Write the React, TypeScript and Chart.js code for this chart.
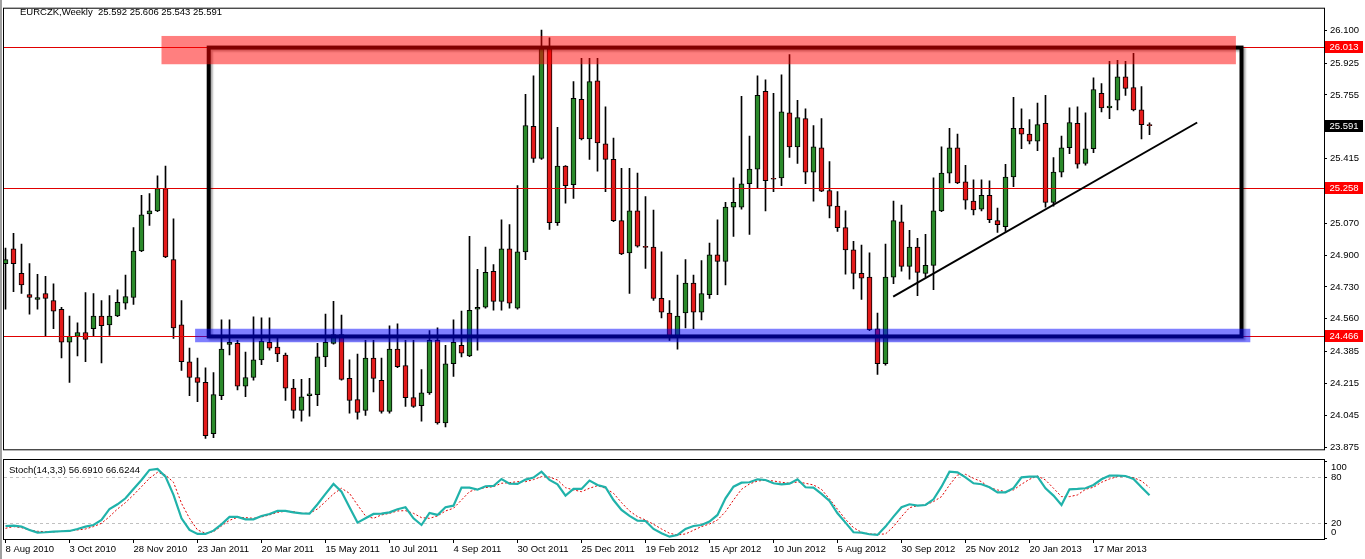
import React, { useEffect, useRef } from 'react';
import { Chart, registerables } from 'chart.js';
Chart.register(...registerables);

// ---------- DATA (weekly EURCZK candles, bar 0 = 8 Aug 2010) ----------
const opens = [
  24.855, 24.933, 24.803, 24.689, 24.663, 24.695, 24.658, 24.611, 24.435, 24.466,
  24.487, 24.507, 24.575, 24.528, 24.575, 24.643, 24.674, 24.922, 25.120, 25.136,
  25.255, 24.876, 24.528, 24.331, 24.247, 24.221, 23.947, 24.150, 24.424, 24.429,
  24.201, 24.247, 24.341, 24.435, 24.409, 24.367, 24.190, 24.071, 24.150, 24.155,
  24.357, 24.429, 24.476, 24.242, 24.129, 24.071, 24.351, 24.232, 24.066, 24.398,
  24.310, 24.139, 24.097, 24.165, 24.445, 24.004, 24.320, 24.419, 24.362, 24.611,
  24.622, 24.814, 24.653, 24.933, 24.617, 24.917, 25.587, 25.416, 26.003, 25.073,
  25.375, 25.276, 25.732, 25.520, 25.831, 25.494, 25.411, 25.084, 24.912, 25.136,
  24.943, 24.943, 24.669, 24.591, 24.461, 24.591, 24.751, 24.596, 24.689, 24.902,
  24.866, 25.156, 25.156, 25.281, 25.359, 25.774, 25.307, 25.312, 25.660, 25.478,
  25.629, 25.343, 25.473, 25.245, 25.162, 25.047, 24.928, 24.803, 24.783, 24.507,
  24.320, 24.783, 25.078, 24.840, 24.943, 24.803, 24.845, 25.136, 25.338, 25.473,
  25.291, 25.188, 25.146, 25.219, 25.084, 25.052, 25.317, 25.577, 25.546, 25.509,
  25.603, 25.182, 25.343, 25.473, 25.603, 25.390, 25.468, 25.764, 25.686, 25.727,
  25.852, 25.795, 25.675, 25.592,
];
const highs = [
  24.938, 25.016, 24.959, 24.855, 24.798, 24.787, 24.747, 24.622, 24.575, 24.539,
  24.700, 24.695, 24.658, 24.684, 24.715, 24.793, 25.047, 25.219, 25.229, 25.323,
  25.375, 25.094, 24.658, 24.404, 24.351, 24.299, 24.273, 24.554, 24.554, 24.445,
  24.383, 24.570, 24.565, 24.565, 24.461, 24.377, 24.237, 24.237, 24.242, 24.429,
  24.585, 24.653, 24.580, 24.341, 24.372, 24.445, 24.445, 24.351, 24.523, 24.533,
  24.445, 24.445, 24.289, 24.497, 24.512, 24.419, 24.554, 24.601, 25.000, 24.824,
  24.943, 24.850, 25.089, 25.063, 25.271, 25.758, 25.857, 26.101, 26.060, 25.582,
  25.378, 25.826, 25.951, 25.951, 25.951, 25.691, 25.525, 25.364, 25.364, 25.338,
  25.213, 25.141, 24.917, 24.658, 24.793, 24.876, 24.793, 24.871, 24.964, 25.089,
  25.182, 25.312, 25.748, 25.535, 25.857, 25.836, 25.764, 25.862, 25.971, 25.727,
  25.681, 25.592, 25.629, 25.400, 25.239, 25.136, 24.974, 24.954, 24.912, 24.591,
  24.959, 25.188, 25.167, 25.032, 24.990, 25.011, 25.312, 25.478, 25.577, 25.546,
  25.380, 25.302, 25.302, 25.297, 25.151, 25.385, 25.743, 25.681, 25.623, 25.712,
  25.753, 25.421, 25.535, 25.686, 25.691, 25.660, 25.847, 25.816, 25.935, 25.940,
  25.935, 25.977, 25.800, 25.606,
];
const lows = [
  24.611, 24.705, 24.695, 24.585, 24.611, 24.466, 24.507, 24.351, 24.221, 24.362,
  24.331, 24.466, 24.325, 24.471, 24.572, 24.611, 24.637, 24.918, 25.058, 25.132,
  24.886, 24.455, 24.284, 24.150, 24.118, 23.921, 23.926, 24.129, 24.367, 24.180,
  24.144, 24.232, 24.315, 24.393, 24.331, 24.124, 24.030, 24.014, 24.040, 24.097,
  24.305, 24.425, 24.232, 24.056, 24.025, 24.045, 24.170, 24.056, 24.056, 24.299,
  24.092, 24.087, 24.014, 24.157, 23.998, 23.983, 24.253, 24.357, 24.358, 24.393,
  24.617, 24.606, 24.606, 24.617, 24.612, 24.876, 25.395, 25.411, 25.037, 25.058,
  25.177, 25.203, 25.515, 25.411, 25.348, 25.239, 25.078, 24.903, 24.695, 24.943,
  24.829, 24.658, 24.565, 24.445, 24.398, 24.512, 24.507, 24.554, 24.669, 24.689,
  24.741, 25.000, 25.146, 25.011, 25.255, 25.136, 25.239, 25.271, 25.421, 25.390,
  25.281, 25.188, 25.239, 25.099, 25.026, 24.798, 24.720, 24.663, 24.497, 24.263,
  24.312, 24.747, 24.814, 24.772, 24.684, 24.783, 24.715, 25.132, 25.286, 25.281,
  25.146, 25.115, 25.136, 25.073, 25.021, 25.026, 25.265, 25.468, 25.494, 25.458,
  25.156, 25.162, 25.317, 25.442, 25.364, 25.380, 25.447, 25.665, 25.629, 25.675,
  25.753, 25.670, 25.520, 25.543,
];
const closes = [
  24.876, 24.855, 24.741, 24.674, 24.674, 24.669, 24.601, 24.435, 24.466, 24.487,
  24.450, 24.575, 24.523, 24.575, 24.648, 24.679, 24.922, 25.115, 25.136, 25.255,
  24.891, 24.512, 24.331, 24.247, 24.221, 23.936, 24.155, 24.398, 24.435, 24.201,
  24.247, 24.341, 24.440, 24.404, 24.372, 24.190, 24.071, 24.144, 24.160, 24.357,
  24.435, 24.476, 24.237, 24.124, 24.061, 24.351, 24.242, 24.066, 24.398, 24.305,
  24.139, 24.092, 24.165, 24.445, 24.004, 24.320, 24.435, 24.377, 24.606, 24.622,
  24.808, 24.653, 24.933, 24.643, 24.917, 25.592, 25.416, 26.003, 25.073, 25.375,
  25.271, 25.737, 25.520, 25.826, 25.499, 25.411, 25.084, 24.907, 25.136, 24.948,
  24.941, 24.669, 24.596, 24.461, 24.575, 24.751, 24.596, 24.695, 24.902, 24.866,
  25.156, 25.182, 25.281, 25.359, 25.753, 25.297, 25.305, 25.665, 25.478, 25.634,
  25.343, 25.478, 25.241, 25.162, 25.047, 24.928, 24.803, 24.777, 24.502, 24.320,
  24.783, 25.084, 24.840, 24.943, 24.808, 24.845, 25.136, 25.338, 25.473, 25.286,
  25.193, 25.141, 25.219, 25.089, 25.063, 25.317, 25.577, 25.546, 25.509, 25.597,
  25.182, 25.343, 25.473, 25.608, 25.385, 25.468, 25.784, 25.686, 25.696, 25.852,
  25.790, 25.675, 25.597, 25.591,
];
const stochK = [
  16.5, 17.0, 15.7, 11.3, 7.8, 8.3, 9.1, 9.6, 10.0, 12.6,
  15.7, 17.8, 24.3, 38.7, 44.8, 52.6, 64.8, 76.5, 89.6, 90.9,
  80.9, 57.0, 26.5, 11.3, 6.1, 6.1, 10.4, 18.7, 28.3, 28.3,
  25.2, 25.2, 29.6, 32.2, 36.1, 36.1, 34.3, 33.0, 32.6, 44.8,
  58.3, 71.3, 61.3, 40.9, 20.9, 26.5, 32.2, 32.6, 34.3, 38.3,
  40.9, 26.5, 17.8, 33.5, 30.9, 40.9, 43.0, 66.5, 66.5, 63.9,
  68.3, 68.7, 77.8, 71.7, 71.3, 77.0, 79.6, 87.4, 76.5, 70.9,
  56.1, 64.8, 64.8, 75.7, 70.0, 67.0, 50.4, 37.4, 29.6, 23.5,
  23.0, 12.6, 7.0, 2.6, 4.8, 12.6, 16.5, 17.8, 22.2, 30.9,
  52.6, 67.8, 73.0, 73.5, 77.4, 76.5, 72.2, 70.9, 71.7, 77.4,
  67.0, 66.5, 58.3, 49.1, 33.0, 20.9, 8.3, 7.8, 5.7, 4.8,
  15.7, 28.7, 40.9, 44.8, 43.0, 43.9, 51.3, 67.8, 87.4, 86.5,
  80.0, 72.2, 70.9, 67.0, 60.4, 60.4, 65.7, 80.0, 80.9, 80.9,
  65.7, 56.1, 43.9, 64.3, 64.8, 65.7, 70.0, 77.4, 82.2, 82.2,
  81.7, 77.8, 67.0, 56.691,
];
const stochD = [
  13.5, 15.7, 14.3, 11.3, 9.6, 9.1, 8.7, 9.6, 10.0, 11.3,
  12.6, 15.7, 20.0, 28.7, 38.7, 47.0, 57.0, 67.8, 78.7, 86.5,
  83.0, 73.5, 46.1, 26.5, 11.3, 7.0, 9.1, 16.5, 23.9, 27.8,
  27.4, 26.5, 28.3, 30.9, 34.3, 35.7, 35.2, 33.0, 33.0, 38.7,
  48.3, 58.3, 65.7, 59.1, 43.9, 29.6, 26.5, 30.9, 33.0, 36.1,
  36.5, 33.0, 27.4, 26.5, 29.6, 36.1, 39.6, 50.4, 61.3, 64.8,
  66.5, 67.8, 72.2, 73.0, 74.3, 74.3, 77.0, 80.9, 80.4, 76.5,
  66.5, 63.5, 61.3, 65.7, 69.1, 65.7, 59.1, 47.0, 36.1, 28.7,
  24.3, 18.7, 12.6, 7.0, 4.8, 6.1, 10.9, 15.7, 19.1, 24.3,
  35.2, 50.4, 64.3, 71.3, 75.2, 76.1, 75.2, 73.5, 72.2, 73.9,
  72.2, 70.0, 64.3, 51.7, 38.3, 25.2, 14.3, 8.3, 6.1, 5.7,
  6.1, 15.7, 28.7, 40.4, 43.0, 43.9, 48.3, 54.8, 70.0, 83.0,
  83.9, 78.7, 74.3, 66.5, 63.5, 61.3, 63.5, 70.9, 77.4, 81.7,
  76.5, 65.7, 54.8, 54.8, 57.0, 64.3, 67.0, 73.5, 77.8, 80.9,
  80.9, 79.6, 75.2, 66.6244,
];
const xTickIndex = [0, 8, 16, 24, 32, 40, 48, 56, 64, 72, 80, 88, 96, 104, 112, 120, 128, 136];
const xTickLabels = [
  '8 Aug 2010', '3 Oct 2010', '28 Nov 2010', '23 Jan 2011', '20 Mar 2011', '15 May 2011',
  '10 Jul 2011', '4 Sep 2011', '30 Oct 2011', '25 Dec 2011', '19 Feb 2012', '15 Apr 2012',
  '10 Jun 2012', '5 Aug 2012', '30 Sep 2012', '25 Nov 2012', '20 Jan 2013', '17 Mar 2013',
];
const priceTicks = [
  23.875, 24.045, 24.215, 24.385, 24.560, 24.730, 24.900, 25.070, 25.245, 25.415,
  25.585, 25.755, 25.925, 26.100,
];
const levelLines = [26.013, 25.258, 24.466];
const lastPrice = 25.591;
const stochTicks = [0, 20, 80, 100];
const stochLevels = [20, 80];
// drawn objects: [barIndexFrom, barIndexTo, priceFrom, priceTo]
const boxRect = [25.4, 154.5, 26.008, 24.466];
const pinkBand = [19.5, 153.8, 26.070, 25.919];
const blueBand = [23.7, 155.6, 24.507, 24.435];
const trendLine = [110.96, 148.96, 24.679, 25.608];

const FONT = "'Liberation Sans', Arial, sans-serif";
const X_MIN = -0.1875;
const X_MAX = 164.8125;
const P_MIN = 23.8635;
const P_MAX = 26.2155;
const S_MIN = -0.48;
const S_MAX = 102.56;
const UP = '#2b8a2b';
const DOWN = '#e31b1b';

const mainOverlay = {
  id: 'mainOverlay',
  afterDatasetsDraw(chart: any) {
    const { ctx, chartArea: a } = chart;
    const x = chart.scales.x;
    const y = chart.scales.y;
    ctx.save();
    ctx.beginPath();
    ctx.rect(a.left, a.top, a.right - a.left, a.bottom - a.top);
    ctx.clip();
    ctx.strokeStyle = '#e00000';
    ctx.lineWidth = 1;
    levelLines.forEach((v) => {
      const py = Math.round(y.getPixelForValue(v)) + 0.5;
      ctx.beginPath();
      ctx.moveTo(a.left, py);
      ctx.lineTo(a.right, py);
      ctx.stroke();
    });
    const rx1 = x.getPixelForValue(boxRect[0]);
    const rx2 = x.getPixelForValue(boxRect[1]);
    const ry1 = y.getPixelForValue(boxRect[2]);
    const ry2 = y.getPixelForValue(boxRect[3]);
    ctx.save();
    ctx.shadowColor = 'rgba(0,0,0,0.35)';
    ctx.shadowOffsetX = 2;
    ctx.shadowOffsetY = 2;
    ctx.shadowBlur = 2;
    ctx.strokeStyle = '#000';
    ctx.lineWidth = 4;
    ctx.strokeRect(rx1, ry1, rx2 - rx1, ry2 - ry1);
    ctx.restore();
    const band = (b: number[], color: string) => {
      const bx1 = x.getPixelForValue(b[0]);
      const bx2 = x.getPixelForValue(b[1]);
      const by1 = y.getPixelForValue(b[2]);
      const by2 = y.getPixelForValue(b[3]);
      ctx.fillStyle = color;
      ctx.fillRect(bx1, by1, bx2 - bx1, by2 - by1);
    };
    band(pinkBand, 'rgba(255,0,0,0.5)');
    band(blueBand, 'rgba(0,0,255,0.5)');
    ctx.strokeStyle = '#000';
    ctx.lineWidth = 2;
    ctx.beginPath();
    ctx.moveTo(x.getPixelForValue(trendLine[0]), y.getPixelForValue(trendLine[2]));
    ctx.lineTo(x.getPixelForValue(trendLine[1]), y.getPixelForValue(trendLine[3]));
    ctx.stroke();
    ctx.restore();
  },
  afterDraw(chart: any) {
    const { ctx, chartArea: a } = chart;
    const y = chart.scales.y;
    ctx.save();
    ctx.strokeStyle = '#000';
    ctx.lineWidth = 1;
    ctx.strokeRect(a.left - 0.5, a.top - 0.5, a.right - a.left + 1, a.bottom - a.top + 1);
    ctx.font = `9.5px ${FONT}`;
    ctx.textAlign = 'center';
    ctx.textBaseline = 'middle';
    const tag = (v: number, bg: string) => {
      const py = Math.round(y.getPixelForValue(v));
      ctx.fillStyle = bg;
      ctx.fillRect(a.right + 1, py - 6, 38, 12);
      ctx.fillStyle = '#fff';
      ctx.fillText(v.toFixed(3), a.right + 20, py + 0.5);
    };
    levelLines.forEach((v) => tag(v, '#ff0000'));
    tag(lastPrice, '#000');
    ctx.fillStyle = '#000';
    ctx.textAlign = 'left';
    const n = closes.length - 1;
    ctx.fillText(
      `EURCZK,Weekly  ${opens[n].toFixed(3)} ${highs[n].toFixed(3)} ${lows[n].toFixed(3)} ${closes[n].toFixed(3)}`,
      20,
      12
    );
    ctx.restore();
  },
};

const stochOverlay = {
  id: 'stochOverlay',
  beforeDatasetsDraw(chart: any) {
    const { ctx, chartArea: a } = chart;
    const y = chart.scales.y;
    ctx.save();
    ctx.strokeStyle = '#c0c0c0';
    ctx.lineWidth = 1;
    ctx.setLineDash([3, 3]);
    stochLevels.forEach((v) => {
      const py = Math.round(y.getPixelForValue(v)) + 0.5;
      ctx.beginPath();
      ctx.moveTo(a.left, py);
      ctx.lineTo(a.right, py);
      ctx.stroke();
    });
    ctx.restore();
  },
  afterDraw(chart: any) {
    const { ctx, chartArea: a } = chart;
    const y = chart.scales.y;
    ctx.save();
    ctx.strokeStyle = '#000';
    ctx.lineWidth = 1;
    ctx.strokeRect(a.left - 0.5, a.top - 0.5, a.right - a.left + 1, a.bottom - a.top + 1);
    ctx.fillStyle = '#000';
    ctx.font = `9.5px ${FONT}`;
    ctx.textBaseline = 'middle';
    ctx.textAlign = 'left';
    stochTicks.forEach((v) => {
      let py = y.getPixelForValue(v);
      py = Math.min(Math.max(py, a.top + 7), a.bottom - 7);
      ctx.fillText(String(v), a.right + 7, py);
    });
    const n = stochK.length - 1;
    ctx.fillText(`Stoch(14,3,3) ${stochK[n].toFixed(4)} ${stochD[n].toFixed(4)}`, 9, 11);
    ctx.restore();
  },
};

export default function App() {
  const mainRef = useRef<HTMLCanvasElement>(null);
  const stochRef = useRef<HTMLCanvasElement>(null);

  useEffect(() => {
    document.body.style.margin = '0';
    const idx = closes.map((_, i) => i);
    const main = new Chart(mainRef.current as HTMLCanvasElement, {
      type: 'bar',
      data: {
        datasets: [
          {
            label: 'wick',
            data: idx.map((i) => ({ x: i, y: [lows[i], highs[i]] })) as any,
            backgroundColor: '#000',
            borderWidth: 0,
            barThickness: 1,
            grouped: false,
            order: 2,
          },
          {
            label: 'body',
            data: idx.map((i) => ({ x: i, y: [opens[i], closes[i]] })) as any,
            backgroundColor: idx.map((i) => (closes[i] >= opens[i] ? UP : DOWN)),
            borderColor: '#000',
            borderWidth: 1,
            borderSkipped: false,
            barThickness: 5,
            minBarLength: 1,
            grouped: false,
            order: 1,
          },
        ],
      },
      options: {
        responsive: false,
        animation: false,
        events: [],
        layout: { padding: { left: 4, top: 4, right: 0, bottom: 1 } },
        plugins: { legend: { display: false }, tooltip: { enabled: false } },
        scales: {
          x: { type: 'linear', min: X_MIN, max: X_MAX, offset: false, display: false },
          y: {
            type: 'linear',
            position: 'right',
            min: P_MIN,
            max: P_MAX,
            afterBuildTicks: (s: any) => {
              s.ticks = priceTicks.map((v) => ({ value: v }));
            },
            afterFit: (s: any) => {
              s.width = 41;
            },
            grid: { drawOnChartArea: false, drawTicks: true, tickLength: 3, color: '#000' },
            border: { display: false },
            ticks: {
              autoSkip: false,
              padding: 3,
              color: '#000',
              font: { family: FONT, size: 9.5 },
              callback: (v: any) => Number(v).toFixed(3),
            },
          },
        },
      } as any,
      plugins: [mainOverlay],
    });

    const stoch = new Chart(stochRef.current as HTMLCanvasElement, {
      type: 'line',
      data: {
        datasets: [
          {
            label: 'K',
            data: idx.map((i) => ({ x: i, y: stochK[i] })),
            borderColor: '#20B2AA',
            borderWidth: 2.2,
            pointRadius: 0,
            tension: 0,
            order: 1,
          },
          {
            label: 'D',
            data: idx.map((i) => ({ x: i, y: stochD[i] })),
            borderColor: '#e00000',
            borderWidth: 1,
            borderDash: [2, 2],
            pointRadius: 0,
            tension: 0,
            order: 2,
          },
        ],
      },
      options: {
        responsive: false,
        animation: false,
        events: [],
        layout: { padding: { left: 4, top: 1, right: 0, bottom: 0 } },
        plugins: { legend: { display: false }, tooltip: { enabled: false } },
        scales: {
          x: {
            type: 'linear',
            min: X_MIN,
            max: X_MAX,
            offset: false,
            position: 'bottom',
            afterBuildTicks: (s: any) => {
              s.ticks = xTickIndex.map((v) => ({ value: v }));
            },
            afterFit: (s: any) => {
              s.height = 20;
            },
            grid: { drawOnChartArea: false, drawTicks: true, tickLength: 4, color: '#000' },
            border: { display: false },
            ticks: {
              autoSkip: false,
              maxRotation: 0,
              align: 'start',
              padding: 1,
              color: '#000',
              font: { family: FONT, size: 9.5 },
              callback: (v: any) => {
                const k = xTickIndex.indexOf(Number(v));
                return k >= 0 ? xTickLabels[k] : '';
              },
            },
          },
          y: {
            type: 'linear',
            position: 'right',
            min: S_MIN,
            max: S_MAX,
            afterBuildTicks: (s: any) => {
              s.ticks = stochTicks.map((v) => ({ value: v }));
            },
            afterFit: (s: any) => {
              s.width = 41;
            },
            grid: { drawOnChartArea: false, drawTicks: true, tickLength: 3, color: '#000' },
            border: { display: false },
            ticks: { display: false },
          },
        },
      } as any,
      plugins: [stochOverlay],
    });

    return () => {
      main.destroy();
      stoch.destroy();
    };
  }, []);

  return (
    <div
      style={{
        position: 'fixed',
        left: 0,
        top: 0,
        width: 1365,
        height: 559,
        background: '#fff',
        overflow: 'hidden',
      }}
    >
      <canvas
        ref={mainRef}
        width={1365}
        height={458}
        style={{ position: 'absolute', left: 0, top: 0, width: 1365, height: 458 }}
      />
      <canvas
        ref={stochRef}
        width={1365}
        height={100}
        style={{ position: 'absolute', left: 0, top: 459, width: 1365, height: 100 }}
      />
      <div
        style={{ position: 'absolute', left: 0, top: 0, width: 2, height: 559, background: '#a0a0a0' }}
      />
    </div>
  );
}
